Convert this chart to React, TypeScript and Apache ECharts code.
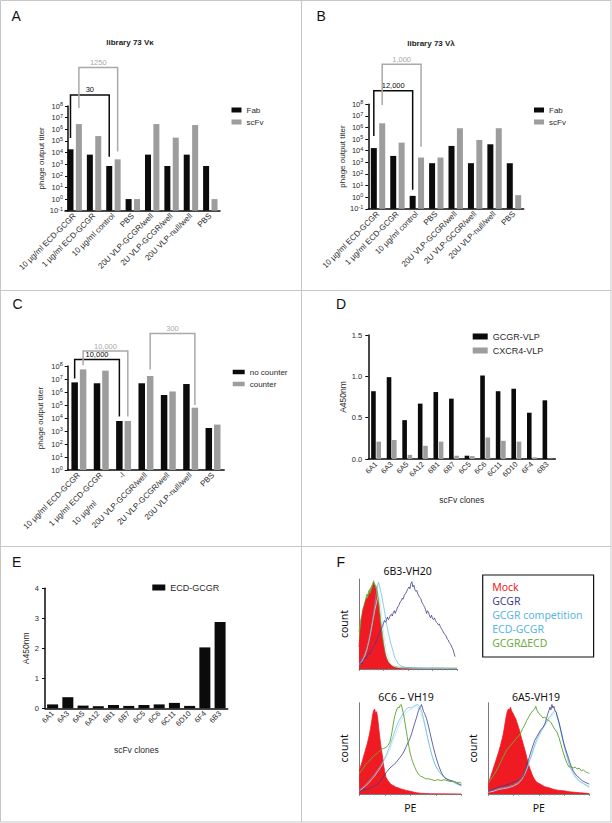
import React, { useEffect, useRef } from 'react';
import * as echarts from 'echarts';

// ---------------- data ----------------
const NB = '\u00a0';
const selectionCategories = ['10 µg/ml ECD-GCGR', '1 µg/ml ECD-GCGR', '10 µg/ml control', 'PBS', '20U VLP-GCGR/well', '2U VLP-GCGR/well', '20U VLP-null/well', 'PBS'];
const counterCategories = ['10 µg/ml ECD-GCGR', '1 µg/ml ECD-GCGR', '10 µg/ml' + NB.repeat(16) + '-l', '20U VLP-GCGR/well', '2U VLP-GCGR/well', '20U VLP-null/well', 'PBS'];
const clones = ['6A1', '6A3', '6A5', '6A12', '6B1', '6B7', '6C5', '6C6', '6C11', '6D10', '6F4', '6B3'];

// panel A (library 73 Vκ), phage output titer
const fabA = [1.9e4, 6.6e3, 700, 1, 6.6e3, 700, 6.6e3, 700];
const scfvA = [2.8e6, 2.6e5, 2.6e3, 1, 2.8e6, 1.9e5, 2.3e6, 1];
// panel B (library 73 Vλ)
const fabB = [1.7e4, 3.6e3, 1.3, 850, 2.6e4, 850, 3.6e4, 850];
const scfvB = [2.3e6, 5e4, 2.6e3, 2.6e3, 8.7e5, 8.5e4, 8.7e5, 1.5];
// panel C
const noCounterC = [5.5e6, 4.7e6, 5.9e3, 4.7e6, 5.9e5, 4.1e6, 1.7e3];
const counterC = [5.5e7, 4.4e7, 5.9e3, 1.7e7, 1.1e6, 6.2e4, 3.1e3];
// panel D, A450nm
const gcgrVlp = [0.82, 0.99, 0.47, 0.67, 0.81, 0.73, 0.04, 1.01, 0.82, 0.85, 0.56, 0.71];
const cxcr4Vlp = [0.21, 0.23, 0.05, 0.16, 0.21, 0.04, 0.035, 0.26, 0.22, 0.21, 0.02, 0.005];
// panel E, A450nm
const ecdGcgrE = [0.13, 0.37, 0.09, 0.07, 0.11, 0.08, 0.11, 0.13, 0.18, 0.08, 2.03, 2.88];

// fold-change brackets (titers at the bracket ends)
const bracketsA = [
  { from: 0, to: 2, side: -1, top: 8.9e8, left: 1.8e5, right: 4.4e3, label: '30', tone: 'dark' },
  { from: 0, to: 2, side: 1, top: 2e11, left: 6.8e7, right: 1.2e4, label: '1250', tone: 'light' },
];
const bracketsB = [
  { from: 0, to: 2, side: -1, top: 1.5e9, left: 1.9e5, right: 4.3, label: '12,000', tone: 'dark' },
  { from: 0, to: 2, side: 1, top: 2.8e11, left: 8.7e7, right: 2.2e4, label: '1,000', tone: 'light' },
];
const bracketsC = [
  { from: 0, to: 2, side: -1, top: 3.2e8, left: 1.1e7, right: 1.3e4, label: '10,000', tone: 'dark' },
  { from: 0, to: 2, side: 1, top: 1.4e9, left: 1.2e8, right: 1.3e4, label: '10,000', tone: 'light' },
  { from: 3, to: 5, side: 1, top: 3.2e10, left: 5.5e7, right: 1e5, label: '300', tone: 'light' },
];

// panel F flow cytometry histograms: [PE channel (rel.), count (% of max)]
const fTopMock = [[0,25],[1,38],[2,47],[3,58],[4,66],[5,70],[6,73],[7,78],[8,80],[9,79],[10,83],[11,86],[12,85],[13,89],[14,93],[15,97],[16,92],[17,91],[18,84],[19,77],[20,68],[21,57],[22,47],[23,39],[24,31],[25,25],[26,19],[27,15],[28,11],[29,9],[30,7],[32,5],[34,3],[36,2],[40,1],[50,0.5],[60,0.3],[100,0]];
const fTopDelta = [[0,42],[1,50],[2,57],[3,62],[4,68],[5,72],[6,76],[7,80],[8,85],[9,84],[10,89],[11,90],[12,92],[13,94],[14,97],[15,100],[16,96],[17,95],[18,92],[19,86],[20,79],[21,68],[22,57],[23,47],[24,39],[25,30],[26,23],[27,17],[28,13],[30,8],[33,4],[36,3],[40,2],[50,1.5],[60,1.2],[70,1],[80,1.2],[90,1],[100,1]];
const fTopComp = [[0,5],[2,8],[4,12],[6,17],[8,23],[10,32],[12,43],[14,56],[15,63],[16,72],[17,80],[18,88],[19,95],[20,98],[21,93],[22,89],[23,84],[24,78],[25,72],[26,66],[27,59],[28,52],[29,46],[30,41],[31,36],[32,31],[33,27],[34,23],[35,19],[36,15],[37,12],[38,10],[39,8],[40,6],[42,4],[44,3],[47,2],[52,1.5],[60,1],[80,0.8],[100,0.5]];
const fTopEcd = [[0,4],[2,7],[4,10],[6,15],[8,22],[10,31],[12,42],[14,54],[16,66],[18,76],[19,81],[20,84],[21,80],[22,72],[23,62],[24,52],[25,42],[26,33],[27,26],[28,20],[30,12],[32,7],[34,4],[37,2.5],[42,1.5],[55,1],[100,0.5]];
const fTopGcgr = [[0,4],[1,5],[2,7],[3,6],[4,9],[5,10],[6,13],[7,12],[8,15],[9,16],[10,18],[11,17],[12,20],[13,22],[14,24],[15,26],[16,27],[17,30],[18,33],[19,35],[20,38],[21,41],[22,43],[23,46],[24,48],[25,52],[26,55],[27,53],[28,55],[29,59],[30,56],[31,58],[32,61],[33,62],[34,60],[35,64],[36,66],[37,63],[38,66],[39,69],[40,71],[41,73],[42,76],[43,77],[44,80],[45,79],[46,83],[47,85],[48,86],[49,89],[50,91],[51,93],[52,91],[53,97],[54,99],[55,93],[56,95],[57,90],[58,88],[59,89],[60,85],[61,83],[62,81],[63,80],[64,76],[65,74],[66,72],[67,70],[68,67],[69,63],[70,66],[71,64],[72,60],[73,58],[74,61],[75,57],[76,56],[77,58],[78,55],[79,53],[80,52],[81,50],[82,51],[83,48],[84,46],[85,44],[86,42],[87,40],[88,39],[89,37],[90,34],[91,33],[92,30],[93,29],[94,27],[95,24],[96,22],[97,18],[98,14]];

const fMidMock = [[0,26],[1,30],[2,33],[3,37],[4,41],[5,45],[6,49],[7,53],[8,57],[9,62],[10,67],[11,73],[12,80],[13,88],[14,93],[15,95],[16,90],[17,92],[18,85],[19,74],[20,64],[21,55],[22,47],[23,40],[24,31],[25,24],[26,19],[27,17],[28,15],[30,12],[32,10],[34,9],[36,7.5],[38,7],[40,6],[43,5],[46,4],[50,3],[53,2.2],[56,1.5],[60,0.8],[70,0.3],[100,0]];
const fMidDelta = [[0,23],[2,26],[4,29],[6,33],[8,35],[10,37],[12,40],[14,42],[16,44],[18,46],[20,48],[22,50],[24,51],[26,52],[28,54],[30,58],[31,63],[32,69],[33,76],[34,83],[35,88],[36,92],[37,95],[38,97],[39,96],[40,99],[41,100],[42,96],[43,91],[44,85],[45,78],[46,71],[47,64],[48,57],[49,51],[50,45],[51,41],[52,37],[54,31],[56,26],[58,22],[60,20],[62,19],[65,17],[68,17],[71,16],[74,15],[77,16],[80,15],[83,16],[86,15],[89,14],[92,14],[95,13],[98,13],[100,12]];
const fMidComp = [[0,4],[3,7],[6,10],[9,14],[12,18],[15,22],[18,27],[21,32],[24,38],[27,45],[29,51],[31,57],[33,64],[35,71],[37,77],[39,82],[41,86],[43,90],[45,93],[47,96],[49,97],[51,96],[53,98],[55,99],[57,100],[59,98],[61,93],[63,84],[65,74],[67,63],[69,53],[71,44],[73,37],[75,31],[77,27],[79,24],[81,21],[84,18],[87,16],[90,15],[93,13],[96,11],[100,9]];
const fMidEcd = [[0,3],[3,6],[6,9],[9,12],[12,16],[15,20],[18,25],[21,30],[24,36],[27,43],[30,50],[33,59],[36,68],[39,77],[42,84],[45,89],[48,93],[51,95],[54,97],[56,99],[58,97],[60,92],[62,85],[64,77],[66,67],[68,57],[70,48],[72,40],[74,34],[76,29],[79,24],[82,20],[85,17],[88,15],[92,13],[96,11],[100,9]];
const fMidGcgr = [[0,3],[3,4],[6,5],[9,6],[12,7],[15,9],[18,11],[21,15],[24,20],[27,25],[30,29],[33,32],[36,35],[38,38],[40,41],[42,44],[44,48],[46,53],[48,58],[50,63],[52,70],[54,78],[56,85],[58,93],[59,96],[60,97],[61,100],[62,96],[63,92],[64,90],[66,84],[68,75],[70,65],[72,55],[74,46],[76,38],[78,31],[80,25],[82,21],[84,18],[87,16],[90,15],[93,14],[96,12],[100,10]];

const fRightMock = [[0,12],[2,18],[4,25],[6,32],[8,39],[10,46],[12,54],[14,63],[15,68],[16,75],[17,82],[18,88],[19,93],[20,95],[21,94],[22,97],[23,93],[24,91],[25,89],[26,86],[27,85],[28,81],[29,78],[30,74],[31,71],[32,66],[33,62],[34,58],[35,54],[36,50],[37,46],[38,41],[39,37],[40,33],[41,29],[42,26],[43,23],[44,20],[46,16],[48,13],[50,12],[53,10],[56,8],[60,7],[65,5],[70,4],[75,3.5],[80,2.5],[85,2],[90,1.5],[95,1],[100,0.5]];
const fRightDelta = [[0,12],[3,17],[6,22],[9,28],[12,35],[15,42],[18,49],[21,53],[24,57],[27,61],[30,65],[32,68],[34,73],[36,77],[38,82],[40,86],[42,90],[44,93],[46,95],[47,98],[48,94],[50,90],[52,88],[54,85],[56,86],[58,83],[60,82],[62,80],[64,76],[66,72],[68,69],[70,63],[72,55],[74,47],[76,40],[78,34],[80,30],[82,31],[84,29],[86,30],[88,28],[90,29],[92,26],[94,27],[96,25],[98,24],[100,23]];
const fRightComp = [[0,3],[5,4],[10,6],[15,7],[20,8],[25,10],[30,14],[33,18],[36,24],[39,32],[42,41],[45,52],[48,61],[51,68],[54,74],[57,80],[60,85],[62,88],[64,91],[66,93],[67,92],[68,88],[70,80],[72,71],[74,60],[76,50],[78,42],[80,34],[82,28],[85,22],[88,17],[91,14],[94,12],[97,10],[100,8]];
const fRightEcd = [[0,2],[5,3],[10,5],[15,6],[20,7],[25,9],[30,12],[33,16],[36,22],[39,30],[42,39],[45,49],[48,58],[51,66],[54,72],[57,78],[60,83],[63,87],[65,90],[67,88],[69,82],[71,73],[73,63],[75,53],[77,44],[79,36],[81,29],[84,22],[87,17],[90,14],[94,11],[97,9],[100,7]];
const fRightGcgr = [[0,3],[5,5],[10,8],[15,9],[20,11],[25,13],[30,15],[34,19],[37,28],[40,39],[43,50],[46,60],[48,64],[50,68],[52,72],[54,74],[56,78],[58,86],[59,90],[60,93],[61,97],[62,94],[63,100],[64,96],[65,98],[66,93],[67,92],[68,88],[70,80],[72,70],[74,60],[76,52],[78,45],[80,38],[82,31],[84,26],[87,21],[90,18],[93,15],[96,13],[100,11]];

// ---------------- styles ----------------
const FONT = "'Liberation Sans', Arial, sans-serif";
const FONT_F = "'Noto Sans', 'Open Sans', sans-serif";
const BLACK = '#0b0b0b';
const GRAY = '#9d9d9d';
const BRACKET_GRAY = '#a9a9a9';
const TXT = '#2a2a2a';
const RED = '#f01a22';
const NAVY = '#3d3d90';
const CYAN = '#58b6de';
const PALE = '#c2e5f3';
const GREEN = '#6aab3c';
const FRAME = '#c6c6c6';

const BW_AB = 6, GAP_AB = 0.4;
const BW_C = 6.5, GAP_C = 0.3;

const shiftAB = (v: number) => Math.log10(v) + 1; // axis starts at 10^-1
const logC = (v: number) => Math.log10(v); // axis starts at 10^0

const logRich = {
  b: { fontSize: 7.5, fontFamily: FONT, color: TXT, lineHeight: 10 },
  s: { fontSize: 5.5, fontFamily: FONT, color: TXT, verticalAlign: 'top', lineHeight: 6 },
};

function catAxis(gridIndex: number, data: string[], extra: any = {}) {
  return {
    type: 'category', gridIndex, data,
    axisLine: { lineStyle: { color: BLACK, width: 1.5 } },
    axisTick: { alignWithLabel: true, length: 3, lineStyle: { color: BLACK, width: 1 } },
    axisLabel: { rotate: 45, interval: 0, fontSize: 8, color: TXT, margin: 4, fontFamily: FONT },
    ...extra,
  };
}

function logAxis(gridIndex: number, max: number, expOffset: number, nameGap: number, offset = 0) {
  return {
    type: 'value', gridIndex, min: 0, max, interval: 1, offset,
    axisLine: { show: true, lineStyle: { color: BLACK, width: 1.5 } },
    axisTick: { show: true, length: 3, lineStyle: { color: BLACK, width: 1 } },
    splitLine: { show: false },
    axisLabel: { margin: 5, formatter: (v: number) => `{b|10}{s|${Math.round(v) + expOffset}}`, rich: logRich },
    name: 'phage output titer', nameLocation: 'middle', nameGap,
    nameTextStyle: { fontSize: 8, color: TXT, fontFamily: FONT },
  };
}

function linAxis(gridIndex: number, max: number, interval: number, digits: number, nameGap: number) {
  return {
    type: 'value', gridIndex, min: 0, max, interval,
    axisLine: { show: true, lineStyle: { color: BLACK, width: 1.5 } },
    axisTick: { show: true, length: 3, lineStyle: { color: BLACK, width: 1 } },
    splitLine: { show: false },
    axisLabel: { margin: 6, fontSize: 7.5, color: TXT, fontFamily: FONT, formatter: (v: number) => v.toFixed(digits) },
    name: 'A450nm', nameLocation: 'middle', nameGap,
    nameTextStyle: { fontSize: 8.5, color: TXT, fontFamily: FONT },
  };
}

function flowX(gridIndex: number, withName: boolean) {
  return {
    type: 'value', gridIndex, min: 0, max: 100, interval: 25,
    axisLine: { lineStyle: { color: '#7a7a7a', width: 1 } },
    axisTick: { show: true, length: 2, lineStyle: { color: '#7a7a7a', width: 0.8 } },
    minorTick: { show: true, splitNumber: 5, length: 1.5, lineStyle: { color: '#959595', width: 0.6 } },
    axisLabel: { show: false }, splitLine: { show: false },
    name: withName ? 'PE' : '', nameLocation: 'middle', nameGap: 8,
    nameTextStyle: { fontSize: 10.5, color: '#111', fontFamily: FONT_F },
  };
}

function flowY(gridIndex: number) {
  return {
    type: 'value', gridIndex, min: 0, max: 102,
    axisLine: { show: true, lineStyle: { color: '#7a7a7a', width: 1 } },
    axisTick: { show: false }, axisLabel: { show: false }, splitLine: { show: false },
    name: 'count', nameLocation: 'middle', nameGap: 10,
    nameTextStyle: { fontSize: 10.5, color: '#111', fontFamily: FONT_F },
  };
}

function bracketSeries(idx: number, list: any[], toY: (v: number) => number, dxBase: number) {
  return {
    type: 'custom', coordinateSystem: 'cartesian2d', xAxisIndex: idx, yAxisIndex: idx,
    silent: true, z: 6, clip: false,
    data: list.map((b) => [b.from, toY(b.top)]),
    encode: { x: 0, y: 1 },
    renderItem: (params: any, api: any) => {
      const b = list[params.dataIndex];
      const color = b.tone === 'dark' ? BLACK : BRACKET_GRAY;
      const dx = b.side * dxBase;
      const tl = api.coord([b.from, toY(b.top)]);
      const tr = api.coord([b.to, toY(b.top)]);
      const bl = api.coord([b.from, toY(b.left)]);
      const br = api.coord([b.to, toY(b.right)]);
      const x1 = tl[0] + dx, x2 = tr[0] + dx, yt = tl[1];
      return {
        type: 'group',
        children: [
          { type: 'polyline', shape: { points: [[x1, bl[1]], [x1, yt], [x2, yt], [x2, br[1]]] },
            style: { stroke: color, lineWidth: 1.5, fill: 'none' } },
          { type: 'text', style: { text: b.label, x: (x1 + x2) / 2, y: yt - 1, textAlign: 'center', textVerticalAlign: 'bottom', align: 'center', verticalAlign: 'bottom', fill: color, font: `7.5px ${FONT}` } },
        ],
      };
    },
  };
}

function flowLine(idx: number, name: string, data: number[][], color: string, fill = false, width = 0.8) {
  return {
    type: 'line', name, xAxisIndex: idx, yAxisIndex: idx, data,
    showSymbol: false, symbol: 'none', silent: true,
    lineStyle: { color, width },
    itemStyle: { color },
    areaStyle: fill ? { color, opacity: 1 } : undefined,
  };
}

function txt(text: string, x: number, y: number, font: string, fill = '#111', align = 'left') {
  return { type: 'text', x, y, silent: true, style: { text, font, fill, textAlign: align, textVerticalAlign: 'middle', align, verticalAlign: 'middle' } };
}

function buildOption() {
  const legendBase = { orient: 'vertical', icon: 'rect', selectedMode: false, padding: 0 };
  return {
    animation: false,
    backgroundColor: '#ffffff',
    textStyle: { fontFamily: FONT },
    grid: [
      { left: 65, top: 106, width: 155, height: 104.7 },
      { left: 368.3, top: 104.3, width: 155.4, height: 104.5 },
      { left: 67.7, top: 366, width: 156.5, height: 104 },
      { left: 368.3, top: 335, width: 187, height: 124 },
      { left: 45, top: 588.3, width: 182.7, height: 120 },
      { left: 359, top: 579, width: 98, height: 90 },
      { left: 359.3, top: 702.7, width: 102, height: 91.3 },
      { left: 488.3, top: 702.7, width: 101, height: 91.3 },
    ],
    xAxis: [
      catAxis(0, selectionCategories),
      catAxis(1, selectionCategories),
      catAxis(2, counterCategories),
      catAxis(3, clones, { axisLabel: { rotate: 45, interval: 0, fontSize: 7.5, color: TXT, margin: 4, fontFamily: FONT }, name: 'scFv clones', nameLocation: 'middle', nameGap: 36, nameTextStyle: { fontSize: 8.5, color: TXT, fontFamily: FONT } }),
      catAxis(4, clones, { axisLabel: { rotate: 45, interval: 0, fontSize: 7.5, color: TXT, margin: 4, fontFamily: FONT }, name: 'scFv clones', nameLocation: 'middle', nameGap: 37, nameTextStyle: { fontSize: 8.5, color: TXT, fontFamily: FONT } }),
      flowX(5, false),
      flowX(6, true),
      flowX(7, true),
    ],
    yAxis: [
      logAxis(0, 9, -1, 22, -3),
      logAxis(1, 9, -1, 22),
      logAxis(2, 8, 0, 23),
      linAxis(3, 1.5, 0.5, 1, 20),
      linAxis(4, 4, 1, 0, 13),
      flowY(5), flowY(6), flowY(7),
    ],
    legend: [
      { ...legendBase, left: 231.5, top: 106, data: ['Fab', 'scFv'], itemWidth: 10, itemHeight: 5, itemGap: 4, textStyle: { fontSize: 8, color: TXT, fontFamily: FONT } },
      { ...legendBase, left: 534, top: 106, data: ['Fab', 'scFv'], itemWidth: 10, itemHeight: 5, itemGap: 4, textStyle: { fontSize: 8, color: TXT, fontFamily: FONT } },
      { ...legendBase, left: 232.7, top: 368, data: ['no counter', 'counter'], itemWidth: 12, itemHeight: 4.5, itemGap: 4, textStyle: { fontSize: 8, color: TXT, fontFamily: FONT } },
      { ...legendBase, left: 472.7, top: 332, data: ['GCGR-VLP', 'CXCR4-VLP'], itemWidth: 15, itemHeight: 6, itemGap: 5, textStyle: { fontSize: 9, color: TXT, fontFamily: FONT } },
      { ...legendBase, left: 152.3, top: 583, data: [{ name: 'ECD-GCGR', itemStyle: { color: BLACK } }], itemWidth: 13, itemHeight: 6, textStyle: { fontSize: 9, color: TXT, fontFamily: FONT } },
      {
        orient: 'vertical', selectedMode: false, icon: 'none', left: 482.7, top: 575,
        itemWidth: 1, itemHeight: 10, itemGap: 0, padding: [5, 11, 7, 3.5],
        borderColor: '#111', borderWidth: 1.2, borderRadius: 0,
        textStyle: { fontSize: 10.5, lineHeight: 14, fontFamily: FONT_F },
        data: [
          { name: 'Mock', textStyle: { color: RED } },
          { name: 'GCGR', textStyle: { color: NAVY } },
          { name: 'GCGR competition', textStyle: { color: CYAN } },
          { name: 'ECD-GCGR', textStyle: { color: CYAN } },
          { name: 'GCGRΔECD', textStyle: { color: GREEN } },
        ],
      },
    ],
    series: [
      { type: 'bar', name: 'Fab', xAxisIndex: 0, yAxisIndex: 0, data: fabA.map(shiftAB), barWidth: BW_AB, barGap: `${GAP_AB * 100}%`, itemStyle: { color: BLACK } },
      { type: 'bar', name: 'scFv', xAxisIndex: 0, yAxisIndex: 0, data: scfvA.map(shiftAB), barWidth: BW_AB, barGap: `${GAP_AB * 100}%`, itemStyle: { color: GRAY } },
      bracketSeries(0, bracketsA, shiftAB, (BW_AB * (1 + GAP_AB)) / 2),

      { type: 'bar', name: 'Fab', xAxisIndex: 1, yAxisIndex: 1, data: fabB.map(shiftAB), barWidth: BW_AB, barGap: `${GAP_AB * 100}%`, itemStyle: { color: BLACK } },
      { type: 'bar', name: 'scFv', xAxisIndex: 1, yAxisIndex: 1, data: scfvB.map(shiftAB), barWidth: BW_AB, barGap: `${GAP_AB * 100}%`, itemStyle: { color: GRAY } },
      bracketSeries(1, bracketsB, shiftAB, (BW_AB * (1 + GAP_AB)) / 2),

      { type: 'bar', name: 'no counter', xAxisIndex: 2, yAxisIndex: 2, data: noCounterC.map(logC), barWidth: BW_C, barGap: `${GAP_C * 100}%`, itemStyle: { color: BLACK } },
      { type: 'bar', name: 'counter', xAxisIndex: 2, yAxisIndex: 2, data: counterC.map(logC), barWidth: BW_C, barGap: `${GAP_C * 100}%`, itemStyle: { color: GRAY } },
      bracketSeries(2, bracketsC, logC, (BW_C * (1 + GAP_C)) / 2),

      { type: 'bar', name: 'GCGR-VLP', xAxisIndex: 3, yAxisIndex: 3, data: gcgrVlp, barWidth: 4.6, barGap: '15%', itemStyle: { color: BLACK } },
      { type: 'bar', name: 'CXCR4-VLP', xAxisIndex: 3, yAxisIndex: 3, data: cxcr4Vlp, barWidth: 4.6, barGap: '15%', itemStyle: { color: GRAY } },

      { type: 'bar', name: 'ECD-GCGR', xAxisIndex: 4, yAxisIndex: 4, data: ecdGcgrE, barWidth: 11, itemStyle: { color: BLACK } },

      flowLine(5, 'GCGRΔECD', fTopDelta, GREEN, true),
      flowLine(5, 'Mock', fTopMock, RED, true),
      flowLine(5, 'ECD-GCGR', fTopEcd, PALE),
      flowLine(5, 'GCGR competition', fTopComp, CYAN, false, 0.7),
      flowLine(5, 'GCGR', fTopGcgr, NAVY),

      flowLine(6, 'Mock', fMidMock, RED, true),
      flowLine(6, 'ECD-GCGR', fMidEcd, PALE),
      flowLine(6, 'GCGR competition', fMidComp, CYAN, false, 0.7),
      flowLine(6, 'GCGR', fMidGcgr, NAVY),
      flowLine(6, 'GCGRΔECD', fMidDelta, GREEN, false, 1),

      flowLine(7, 'Mock', fRightMock, RED, true),
      flowLine(7, 'ECD-GCGR', fRightEcd, PALE),
      flowLine(7, 'GCGR competition', fRightComp, CYAN, false, 0.7),
      flowLine(7, 'GCGR', fRightGcgr, NAVY),
      flowLine(7, 'GCGRΔECD', fRightDelta, GREEN, false, 1),
    ],
    graphic: [
      { type: 'rect', silent: true, shape: { x: 0.5, y: 0.5, width: 610.5, height: 821.5 }, style: { fill: 'none', stroke: FRAME, lineWidth: 1 } },
      { type: 'line', silent: true, shape: { x1: 301.5, y1: 0.5, x2: 301.5, y2: 822 }, style: { stroke: FRAME, lineWidth: 1 } },
      { type: 'line', silent: true, shape: { x1: 0.5, y1: 290.5, x2: 611, y2: 290.5 }, style: { stroke: FRAME, lineWidth: 1 } },
      { type: 'line', silent: true, shape: { x1: 0.5, y1: 546.5, x2: 611, y2: 546.5 }, style: { stroke: FRAME, lineWidth: 1 } },
      txt('A', 11.5, 15.5, `14px ${FONT}`),
      txt('B', 316.5, 15.5, `14px ${FONT}`),
      txt('C', 12.5, 304.3, `14px ${FONT}`),
      txt('D', 336, 304.3, `14px ${FONT}`),
      txt('E', 12, 561.7, `14px ${FONT}`),
      txt('F', 336.5, 561.7, `14px ${FONT}`),
      txt('library 73 Vκ', 130, 42, `bold 8px ${FONT}`, '#222', 'center'),
      txt('library 73 Vλ', 431, 43, `bold 8px ${FONT}`, '#222', 'center'),
      txt('6B3-VH20', 407.7, 570.5, `10.5px ${FONT_F}`, '#111', 'center'),
      txt('6C6 – VH19', 406, 696.5, `10.5px ${FONT_F}`, '#111', 'center'),
      txt('6A5-VH19', 536, 696.5, `10.5px ${FONT_F}`, '#111', 'center'),
    ],
  };
}

export default function App() {
  const ref = useRef<HTMLDivElement>(null);
  useEffect(() => {
    if (!ref.current) return;
    const chart = echarts.init(ref.current, null, { renderer: 'svg' });
    chart.setOption(buildOption() as any);
    return () => chart.dispose();
  }, []);
  return <div ref={ref} style={{ position: 'absolute', left: 0, top: 0, width: 612, height: 823, background: '#fff' }} />;
}
